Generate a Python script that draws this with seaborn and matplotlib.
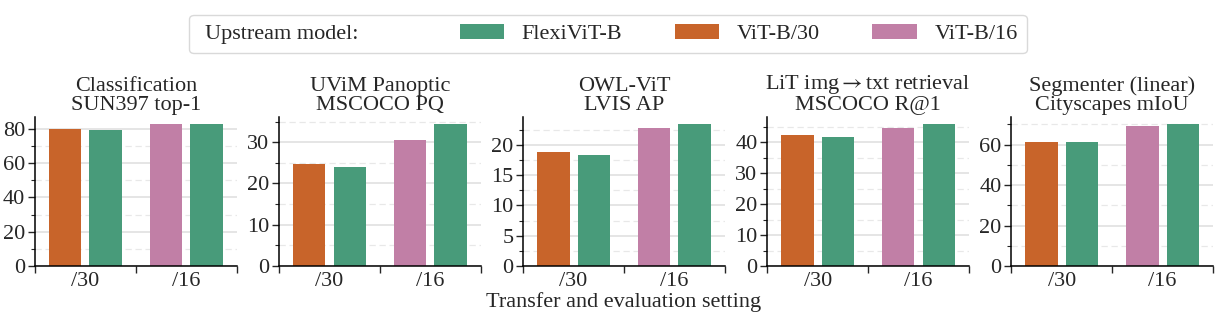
import matplotlib
matplotlib.use("Agg")
import matplotlib.pyplot as plt
import pandas as pd
import seaborn as sns
from matplotlib.ticker import MultipleLocator, NullFormatter, FixedLocator, FixedFormatter
from matplotlib.patches import Patch
from matplotlib.offsetbox import DrawingArea

# Results for each downstream task
task_titles = [
    "Classification\nSUN397 top-1",
    "UViM Panoptic\nMSCOCO PQ",
    "OWL-ViT\nLVIS AP",
    "LiT img$\\rightarrow$txt retrieval\nMSCOCO R@1",
    "Segmenter (linear)\nCityscapes mIoU",
]
settings = ["/30", "/16"]
vit_b30 = [79.8, 24.7, 18.8, 42.4, 61.3]
vit_b16 = [82.7, 30.6, 22.7, 44.6, 69.5]
flexi_at_30 = [79.0, 24.1, 18.3, 41.6, 61.3]
flexi_at_16 = [82.5, 34.4, 23.4, 45.9, 70.2]
major_steps = [20, 10, 5, 10, 20]

model_names = ["FlexiViT-B", "ViT-B/30", "ViT-B/16"]
model_colors = {"FlexiViT-B": "#489b7a", "ViT-B/30": "#c8642a", "ViT-B/16": "#c17fa6"}

sns.set_style("ticks")
plt.rcParams["font.family"] = ["Liberation Serif", "DejaVu Serif"]
plt.rcParams["mathtext.fontset"] = "stix"
FS = 16

fig, axes = plt.subplots(1, 5, figsize=(12.24, 3.24), dpi=100)
fig.subplots_adjust(left=35 / 1224, right=1213 / 1224, bottom=58 / 324,
                    top=(324 - 117) / 324, wspace=0.21)

for i, ax in enumerate(axes):
    df = pd.DataFrame({
        "setting": settings * 2,
        "slot": ["baseline", "baseline", "flexi", "flexi"],
        "score": [vit_b30[i], vit_b16[i], flexi_at_30[i], flexi_at_16[i]],
    })
    sns.barplot(data=df, x="setting", y="score", hue="slot", order=settings,
                hue_order=["baseline", "flexi"], ax=ax, legend=False,
                width=0.8, gap=0.2, saturation=1, edgecolor="none",
                palette={"baseline": model_colors["ViT-B/30"],
                         "flexi": model_colors["FlexiViT-B"]})
    # baseline bar colour follows the patch size of its setting
    for bar, name in zip(ax.containers[0], ["ViT-B/30", "ViT-B/16"]):
        bar.set_facecolor(model_colors[name])
    for bar in ax.containers[1]:
        bar.set_facecolor(model_colors["FlexiViT-B"])

    ax.set_xlim(-0.5, 1.5)
    ax.xaxis.set_major_locator(FixedLocator([-0.5, 0.5, 1.5]))
    ax.xaxis.set_major_formatter(NullFormatter())
    ax.xaxis.set_minor_locator(FixedLocator([0, 1]))
    ax.xaxis.set_minor_formatter(FixedFormatter(settings))
    ax.tick_params(axis="x", which="minor", length=0, labelsize=FS, pad=4)
    ax.tick_params(axis="x", which="major", length=5, width=1)

    ax.yaxis.set_major_locator(MultipleLocator(major_steps[i]))
    ax.yaxis.set_minor_locator(MultipleLocator(major_steps[i] / 2))
    ax.tick_params(axis="y", which="major", length=5, width=1, labelsize=FS, pad=2)
    ax.tick_params(axis="y", which="minor", length=3, width=0.8)

    ax.set_axisbelow(True)
    ax.grid(axis="y", which="major", color="#dedede", linewidth=1.1, linestyle="-")
    ax.grid(axis="y", which="minor", color="#e8e8e8", linewidth=0.9, linestyle=(0, (5, 3)))

    for side in ["top", "right"]:
        ax.spines[side].set_visible(False)
    for side in ["left", "bottom"]:
        ax.spines[side].set_linewidth(1.1)
        ax.spines[side].set_color("black")

    ax.set_title(task_titles[i], fontsize=FS, pad=5, linespacing=1.0)
    ax.set_xlabel("")
    ax.set_ylabel("")

axes[2].set_xlabel("Transfer and evaluation setting", fontsize=FS, labelpad=1)

handles = [Patch(facecolor="none", edgecolor="none")] + [
    Patch(facecolor=model_colors[m], edgecolor="none") for m in model_names]
labels = ["Upstream model:"] + model_names
leg = fig.legend(handles, labels, loc="center", bbox_to_anchor=(608 / 1224, 0.895),
                 ncol=4, fontsize=FS, frameon=True, handlelength=2.0,
                 handletextpad=0.8, columnspacing=2.35, borderpad=0.4)
leg.get_frame().set_edgecolor("#d0d0d0")
leg.get_frame().set_linewidth(1.0)

# the caption entry has no swatch: shrink its handle and widen its column
legend_box = leg.get_children()[0]
handle_box = legend_box.get_children()[1]
first_entry = handle_box.get_children()[0].get_children()[0]
first_entry.sep = 0
first_entry.get_children()[0].width = 5
spacer = DrawingArea(35, 1)
spacer.set_figure(fig)
first_entry.get_children().append(spacer)

fig.savefig("out.png", dpi=100)
